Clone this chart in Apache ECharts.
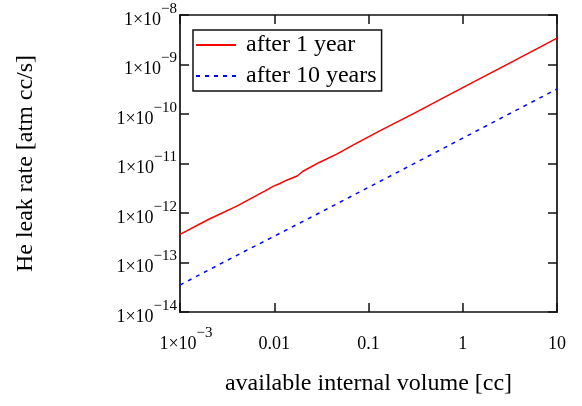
<!DOCTYPE html>
<html>
<head>
<meta charset="utf-8">
<script src="https://cdn.jsdelivr.net/npm/echarts@6/dist/echarts.min.js"></script>
<style>
html, body { margin: 0; padding: 0; background: #fff; }
#main { width: 582px; height: 406px; }
</style>
</head>
<body>
<div id="main"></div>
<script>
// available internal volume [cc]
var volume1 = [0.001, 0.002, 0.004, 0.008, 0.0097, 0.0115, 0.0135, 0.0155, 0.0175, 0.02, 0.03, 0.046, 0.07, 0.13, 0.3, 1, 3, 10];
// He leak rate after 1 year [atm cc/s]
var rate1 = [3.7e-13, 7.4e-13, 1.38e-12, 2.8e-12, 3.45e-12, 3.95e-12, 4.6e-12, 5.1e-12, 5.6e-12, 6.9e-12, 1.05e-11, 1.55e-11, 2.4e-11, 4.5e-11, 1.02e-10, 3.4e-10, 1.02e-9, 3.4e-9];
var volume10 = [0.001, 0.003, 0.01, 0.03, 0.1, 0.3, 1, 3, 10];
// He leak rate after 10 years [atm cc/s]
var rate10 = [3.5e-14, 1.05e-13, 3.4e-13, 1.0e-12, 3.3e-12, 9.8e-12, 3.25e-11, 9.7e-11, 3.2e-10];
var seriesNames = ['after 1 year', 'after 10 years'];
var xTickLabels = {'-3': '{c|1×10}{b|−3}', '-2': '{a|0.01}', '-1': '{a|0.1}', '0': '{a|1}', '1': '{a|10}'};

var FONT = 'Liberation Serif';
var rich = {
    a: { fontFamily: FONT, fontSize: 18, lineHeight: 18, color: '#000', padding: [10, 0, 0, 0] },
    c: { fontFamily: FONT, fontSize: 18, lineHeight: 18, color: '#000', padding: [10, 0, 0, 12] },
    b: { fontFamily: FONT, fontSize: 15, lineHeight: 15, color: '#000', padding: [0, 0, 12, 0] }
};

function pairs(xs, ys) {
    var out = [];
    for (var i = 0; i < xs.length; i++) out.push([xs[i], ys[i]]);
    return out;
}
function expOf(v) { return Math.round(Math.log10(v)); }

var myChart = echarts.init(document.getElementById('main'), null, { renderer: 'canvas' });

var lineAxis = { show: true, lineStyle: { color: '#111', width: 1.7 } };
var tickIn = { show: true, inside: true, length: 9, lineStyle: { color: '#111', width: 1.5 } };

var option = {
    backgroundColor: '#fff',
    animation: false,
    grid: { left: 180, right: 25, top: 15, bottom: 94 },
    legend: {
        orient: 'vertical',
        left: 193,
        top: 30,
        padding: [3, 5, 3, 2],
        itemGap: 7,
        itemWidth: 40,
        itemHeight: 14,
        borderColor: '#111',
        borderWidth: 1.5,
        backgroundColor: '#fff',
        itemStyle: { opacity: 0 },
        textStyle: { fontFamily: FONT, fontSize: 24, color: '#000', padding: [0, 0, 0, 5] },
        data: seriesNames
    },
    xAxis: [{
        type: 'log',
        logBase: 10,
        min: 0.001,
        max: 10,
        interval: 1,
        name: 'available internal volume [cc]',
        nameLocation: 'middle',
        nameGap: 60,
        nameTextStyle: { fontFamily: FONT, fontSize: 24, color: '#000' },
        axisLine: lineAxis,
        axisTick: tickIn,
        minorTick: { show: false },
        splitLine: { show: false },
        axisLabel: {
            margin: 18,
            fontFamily: FONT,
            fontSize: 18,
            rich: rich,
            formatter: function (v) { return xTickLabels[String(expOf(v))] || ''; }
        }
    }, {
        type: 'log',
        logBase: 10,
        min: 0.001,
        max: 10,
        interval: 1,
        position: 'top',
        axisLine: lineAxis,
        axisTick: tickIn,
        axisLabel: { show: false },
        splitLine: { show: false }
    }],
    yAxis: [{
        type: 'log',
        logBase: 10,
        min: 1e-14,
        max: 1e-8,
        interval: 1,
        name: 'He leak rate [atm cc/s]',
        nameLocation: 'middle',
        nameGap: 142,
        nameTextStyle: { fontFamily: FONT, fontSize: 24, color: '#000' },
        axisLine: lineAxis,
        axisTick: tickIn,
        splitLine: { show: false },
        axisLabel: {
            margin: 3,
            fontFamily: FONT,
            fontSize: 18,
            rich: rich,
            formatter: function (v) { return '{a|1×10}{b|−' + (-expOf(v)) + '}'; }
        }
    }, {
        type: 'log',
        logBase: 10,
        min: 1e-14,
        max: 1e-8,
        interval: 1,
        position: 'right',
        axisLine: lineAxis,
        axisTick: tickIn,
        axisLabel: { show: false },
        splitLine: { show: false }
    }],
    series: [{
        name: seriesNames[0],
        type: 'line',
        symbol: 'none',
        color: '#ff0000',
        lineStyle: { color: '#ff0000', width: 1.5 },
        data: pairs(volume1, rate1)
    }, {
        name: seriesNames[1],
        type: 'line',
        symbol: 'none',
        color: '#0000ff',
        lineStyle: { color: '#0000ff', width: 1.5, type: [4, 5] },
        data: pairs(volume10, rate10)
    }]
};
myChart.setOption(option);
window.addEventListener('resize', function () { myChart.resize(); });
</script>
</body>
</html>
